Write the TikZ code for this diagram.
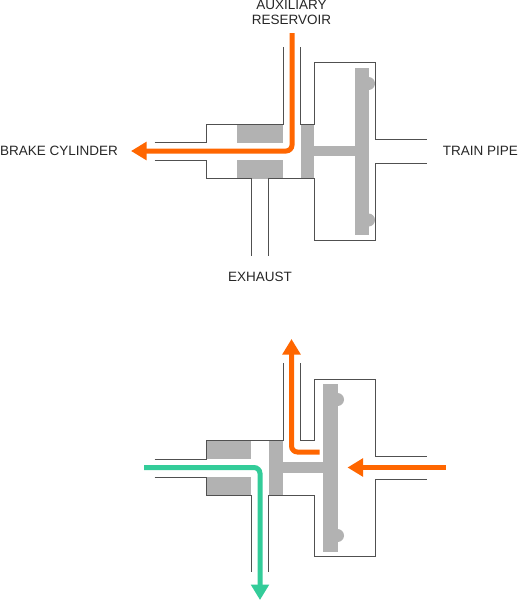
\documentclass[tikz,border=0pt]{standalone}
\usepackage{fontspec}
\setmainfont{Liberation Sans}
\usetikzlibrary{arrows.meta}
\definecolor{flowOrange}{HTML}{FF6600}
\definecolor{flowGreen}{HTML}{33CC99}
\definecolor{partGray}{HTML}{B2B2B2}
\definecolor{wallGray}{HTML}{505050}
\tikzstyle{wall}      = [draw=wallGray, line width=0.9pt]
\tikzstyle{part}      = [fill=partGray, draw=none]
\tikzstyle{flow}      = [line width=5pt, rounded corners=6pt, -{Triangle[width=17.5pt,length=15.5pt]}]
\tikzstyle{label}     = [font=\fontsize{13.5}{15}\selectfont, text=black!85, align=center, inner sep=0pt]

\begin{document}
\begin{tikzpicture}[x=1pt, y=-1pt]
\useasboundingbox (0,0) rectangle (518,600);

% horní ventil - šedé díly
\fill[part] (237,124) rectangle (283,143);
\fill[part] (237,160) rectangle (283,178.5);
\fill[part] (300.5,124) rectangle (314,178.5);
\fill[part] (314,146) rectangle (354.5,156);
\fill[part] (354.5,67.5) rectangle (368.5,235);
\fill[part] (368.5,83.5) circle (6.5);
\fill[part] (368.5,220) circle (6.5);

% horní ventil - stěny
\draw[wall] (154.5,142) -- (206,142) -- (206,124) -- (283,124) -- (283,47);
\draw[wall] (300.5,47) -- (300.5,124) -- (314,124) -- (314,62.5) -- (375.5,62.5) -- (375.5,139.5) -- (426.5,139.5);
\draw[wall] (426.5,163) -- (375.5,163) -- (375.5,240) -- (314,240) -- (314,178.5) -- (268,178.5) -- (268,256);
\draw[wall] (154.5,160) -- (206,160) -- (206,178.5) -- (251,178.5) -- (251,256);

% horní ventil - proud
\coordinate (auxStart) at (292,33);
\coordinate (auxBend) at (292,151);
\coordinate (brakeEnd) at (131,151);
\draw[flow, flowOrange] (auxStart) -- (auxBend) -- (brakeEnd);

% popisky
\node[label] (aux) at (291.5,12.5) {AUXILIARY\\RESERVOIR};
\node[label, anchor=west] (brake) at (0,151) {BRAKE CYLINDER};
\node[label, anchor=east] (train) at (518,151) {TRAIN PIPE};
\node[label] (exhaust) at (260,277) {EXHAUST};

% dolní ventil - šedé díly
\fill[part] (206,440.5) rectangle (251,459);
\fill[part] (206,477) rectangle (251,495);
\fill[part] (268.5,440.5) rectangle (283,495);
\fill[part] (283,462) rectangle (323,472.5);
\fill[part] (323,383.5) rectangle (337.5,551.5);
\fill[part] (337.5,399.5) circle (6.5);
\fill[part] (337.5,535.5) circle (6.5);

% dolní ventil - stěny
\draw[wall] (154.5,459) -- (206,459) -- (206,440.5) -- (283,440.5) -- (283,363);
\draw[wall] (300.5,363) -- (300.5,440.5) -- (314,440.5) -- (314,379.5) -- (375.5,379.5) -- (375.5,456.5) -- (426.5,456.5);
\draw[wall] (426.5,479.5) -- (375.5,479.5) -- (375.5,556.5) -- (314,556.5) -- (314,495) -- (268.5,495) -- (268.5,572);
\draw[wall] (154.5,477) -- (206,477) -- (206,495) -- (251,495) -- (251,572);

% dolní ventil - proudy
\coordinate (pistonGap) at (319.5,452);
\coordinate (upBend) at (291.5,452);
\coordinate (upEnd) at (291.5,339);
\draw[flow, flowOrange] (pistonGap) -- (upBend) -- (upEnd);
\coordinate (pipeStart) at (445.5,467.5);
\coordinate (pipeEnd) at (347.5,467.5);
\draw[flow, flowOrange] (pipeStart) -- (pipeEnd);
\coordinate (cylStart) at (144,467.5);
\coordinate (cylBend) at (260,467.5);
\coordinate (exhaustEnd) at (260,600);
\draw[flow, flowGreen] (cylStart) -- (cylBend) -- (exhaustEnd);

\end{tikzpicture}
\end{document}
